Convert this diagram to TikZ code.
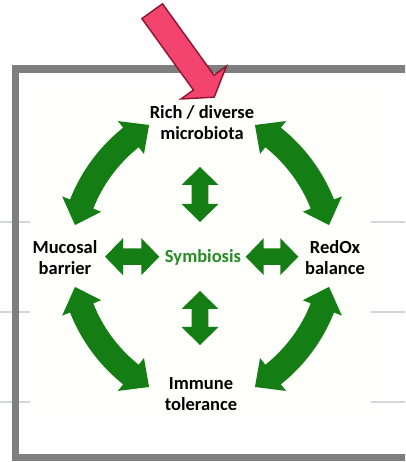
\documentclass[tikz,border=0pt]{standalone}
\usepackage{fontspec}
\setmainfont{Carlito}
\definecolor{arrowgreen}{RGB}{20,126,20}
\definecolor{textgreen}{RGB}{38,140,38}
\definecolor{framegray}{RGB}{127,127,127}
\definecolor{faintline}{RGB}{210,215,222}
\definecolor{cream}{RGB}{255,255,251}
\definecolor{pinkfill}{RGB}{242,68,110}
\definecolor{pinkdraw}{RGB}{140,20,45}
% curved double arrow: centre x, centre y, tip angle 1, tip angle 2 (radius 160)
\newcommand{\cdarrow}[4]{%
  \begin{scope}[shift={(#1,#2)}]
    \pgfmathsetmacro\aS{#3+7.9}%
    \pgfmathsetmacro\aE{#4-7.9}%
    \fill[arrowgreen] (\aS:172.5pt) arc[start angle=\aS, end angle=\aE, radius=172.5pt]
      -- (\aE:181pt) -- (#4:160pt) -- (\aE:139pt) -- (\aE:147.5pt)
      arc[start angle=\aE, end angle=\aS, radius=147.5pt]
      -- (\aS:139pt) -- (#3:160pt) -- (\aS:181pt) -- cycle;
  \end{scope}}
% horizontal double arrow: x left tip, x right tip, y
\newcommand{\hdarrow}[3]{%
  \fill[arrowgreen] (#1,#3) -- (#1+18,#3+18.5) -- (#1+18,#3+8.3) -- (#2-18,#3+8.3) -- (#2-18,#3+18.5)
    -- (#2,#3) -- (#2-18,#3-18.5) -- (#2-18,#3-8.3) -- (#1+18,#3-8.3) -- (#1+18,#3-18.5) -- cycle;}
% vertical double arrow: x, y top tip, y bottom tip
\newcommand{\vdarrow}[3]{%
  \fill[arrowgreen] (#1,#2) -- (#1+18.5,#2-18) -- (#1+8.3,#2-18) -- (#1+8.3,#3+18) -- (#1+18.5,#3+18)
    -- (#1,#3) -- (#1-18.5,#3+18) -- (#1-8.3,#3+18) -- (#1-8.3,#2-18) -- (#1-18.5,#2-18) -- cycle;}
\tikzset{
  lbl/.style={font=\fontsize{18.5}{21}\selectfont\bfseries, align=center, inner sep=0pt, text=black},
  sym/.style={font=\fontsize{18.5}{21}\selectfont\bfseries, inner sep=0pt, text=textgreen}
}
\begin{document}
\begin{tikzpicture}[x=1pt,y=1pt]
\useasboundingbox (0,0) rectangle (405,462);
\clip (0,0) rectangle (405,462);
\fill[white] (0,0) rectangle (405,462);
% faint background rules
\foreach \yy in {240,150,60}{
  \draw[faintline, line width=1.5pt] (0,\yy) -- (30,\yy);
  \draw[faintline, line width=1.5pt] (371,\yy) -- (405,\yy);
}
% cream picture area
\fill[cream] (30,47) rectangle (371,374);
% frame
\draw[framegray, line width=7.5pt] (15.5,393) rectangle (440,4.5);
% curved double arrows
\cdarrow{230.5}{199.3}{120.6}{166.4}
\cdarrow{173.5}{199.3}{13.6}{59.4}
\cdarrow{230.5}{212.7}{193.6}{239.4}
\cdarrow{173.5}{212.7}{300.6}{346.4}
% straight double arrows
\vdarrow{200}{295}{240}
\vdarrow{200}{171}{117}
\hdarrow{105}{159.3}{205.3}
\hdarrow{245.7}{298.3}{205.3}
% labels
\node[lbl] (rich) at (202,339.5) {Rich / diverse\\microbiota};
\node[lbl] (muc) at (65,204.5) {Mucosal\\barrier};
\node[lbl] (redox) at (335,204.5) {RedOx\\balance};
\node[lbl] (imm) at (201,68) {Immune\\tolerance};
\node[sym] (sym) at (203,204.5) {Symbiosis};
% pink pointer arrow
\filldraw[fill=pinkfill, draw=pinkdraw, line width=1.4pt, line join=miter]
  (141.9,443.4) -- (162.5,458.2) -- (214.0,386.8) -- (226.4,395.8)
  -- (214.2,364.8) -- (181.0,363.0) -- (193.4,372.0) -- cycle;
\end{tikzpicture}
\end{document}
